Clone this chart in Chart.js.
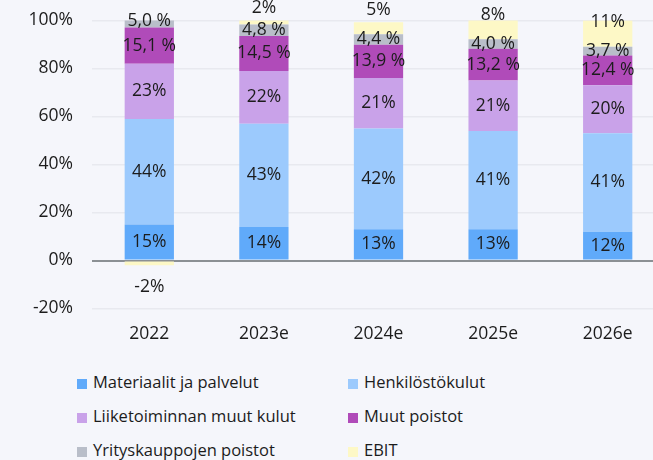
<!DOCTYPE html>
<html>
<head>
<meta charset="utf-8">
<script src="https://cdn.jsdelivr.net/npm/chart.js@4"></script>
<style>
  html, body { margin: 0; padding: 0; background: #f5f6fb; overflow: hidden; }
  body { width: 653px; height: 460px; position: relative; font-family: "Open Sans", sans-serif; }
  #wrap { position: absolute; left: 0; top: -9px; width: 665px; height: 359px; }
  #legend { position: absolute; left: 77px; top: 365px; display: grid;
    grid-template-columns: 271px 260px; color: #1c1c1c; font-size: 16.5px; }
  #legend div { height: 34px; line-height: 34px; white-space: nowrap; }
  #legend span { display: inline-block; width: 10px; height: 10px; margin-right: 6px; vertical-align: -1px; }
</style>
</head>
<body>
<div id="wrap"><canvas id="c" width="665" height="359"></canvas></div>
<div id="legend"></div>
<script>
// Cost structure as % of revenue, stacked to 100 %.
const years = ["2022", "2023e", "2024e", "2025e", "2026e"];
const materiaalit = [15, 14, 13, 13, 12];
const henkilosto = [44, 43, 42, 41, 41];
const muutKulut = [23, 22, 21, 21, 20];
const muutPoistot = [15.1, 14.5, 13.9, 13.2, 12.4];
const yrityskaupat = [5.0, 4.8, 4.4, 4.0, 3.7];
const ebit = [-2, 2, 5, 8, 11];
const yTicks = [-20, 0, 20, 40, 60, 80, 100];

const FONT = "'Open Sans', sans-serif";

const series = [
  { label: "Materiaalit ja palvelut", data: materiaalit, color: "#60aafa", dec: 0 },
  { label: "Henkilöstökulut", data: henkilosto, color: "#9ccafd", dec: 0 },
  { label: "Liiketoiminnan muut kulut", data: muutKulut, color: "#c9a2e9", dec: 0 },
  { label: "Muut poistot", data: muutPoistot, color: "#b04bb9", dec: 1 },
  { label: "Yrityskauppojen poistot", data: yrityskaupat, color: "#b9bec9", dec: 1 },
  { label: "EBIT", data: ebit, color: "#fdf8c6", dec: 0, ebit: true },
];

function fmt(v, dec) {
  if (dec) return v.toFixed(dec).replace(".", ",") + " %";
  return Math.round(v) + "%";
}

// Simple inline value labels (no datalabels plugin available offline).
const valueLabels = {
  id: "valueLabels",
  afterDatasetsDraw(chart) {
    const ctx = chart.ctx;
    ctx.save();
    ctx.font = "17.5px " + FONT;
    ctx.fillStyle = "#1c1c1c";
    ctx.textAlign = "center";
    ctx.textBaseline = "middle";
    chart.data.datasets.forEach((ds, i) => {
      const meta = chart.getDatasetMeta(i);
      meta.data.forEach((bar, j) => {
        const v = ds.data[j];
        const p = bar.getProps(["x", "y", "base"], true);
        let y = (p.y + p.base) / 2;
        if (ds.ebit) {
          const top = Math.min(p.y, p.base);
          const bottom = Math.max(p.y, p.base);
          if (v < 0) y = bottom + 22;
          else y = top - 12 + Math.max(0, v - 5) * 2.3;
        }
        ctx.fillText(fmt(v, ds.dec), p.x, y);
      });
    });
    ctx.restore();
  },
};

new Chart(document.getElementById("c"), {
  type: "bar",
  data: {
    labels: years,
    datasets: series.map((s) => ({
      label: s.label,
      data: s.data,
      backgroundColor: s.color,
      dec: s.dec,
      ebit: !!s.ebit,
      barPercentage: 0.43,
      categoryPercentage: 1,
    })),
  },
  options: {
    responsive: false,
    animation: false,
    layout: { padding: { top: 10.5, right: 0, bottom: 0, left: 0 } },
    plugins: { legend: { display: false }, tooltip: { enabled: false } },
    scales: {
      x: {
        stacked: true,
        grid: { display: false, drawTicks: false },
        border: { display: false },
        ticks: { color: "#1c1c1c", font: { family: FONT, size: 17.5 }, padding: 15 },
        afterFit: (a) => { a.height = 41.5; },
      },
      y: {
        stacked: true,
        min: -20,
        max: 100,
        afterBuildTicks: (a) => { a.ticks = yTicks.map((v) => ({ value: v })); },
        grid: {
          drawTicks: false,
          color: (c) => (c.tick && c.tick.value === 0 ? "#8b9094" : "#e8e9ef"),
          lineWidth: (c) => (c.tick && c.tick.value === 0 ? 2 : 1.5),
        },
        border: { display: false },
        ticks: {
          color: "#1c1c1c",
          font: { family: FONT, size: 17.5 },
          padding: 19,
          callback: (v) => v + "%",
        },
        afterFit: (a) => { a.width = 92; },
      },
    },
  },
  plugins: [valueLabels],
});

const lg = document.getElementById("legend");
series.forEach((s) => {
  const d = document.createElement("div");
  d.innerHTML = '<span style="background:' + s.color + '"></span>' + s.label;
  lg.appendChild(d);
});
</script>
</body>
</html>
